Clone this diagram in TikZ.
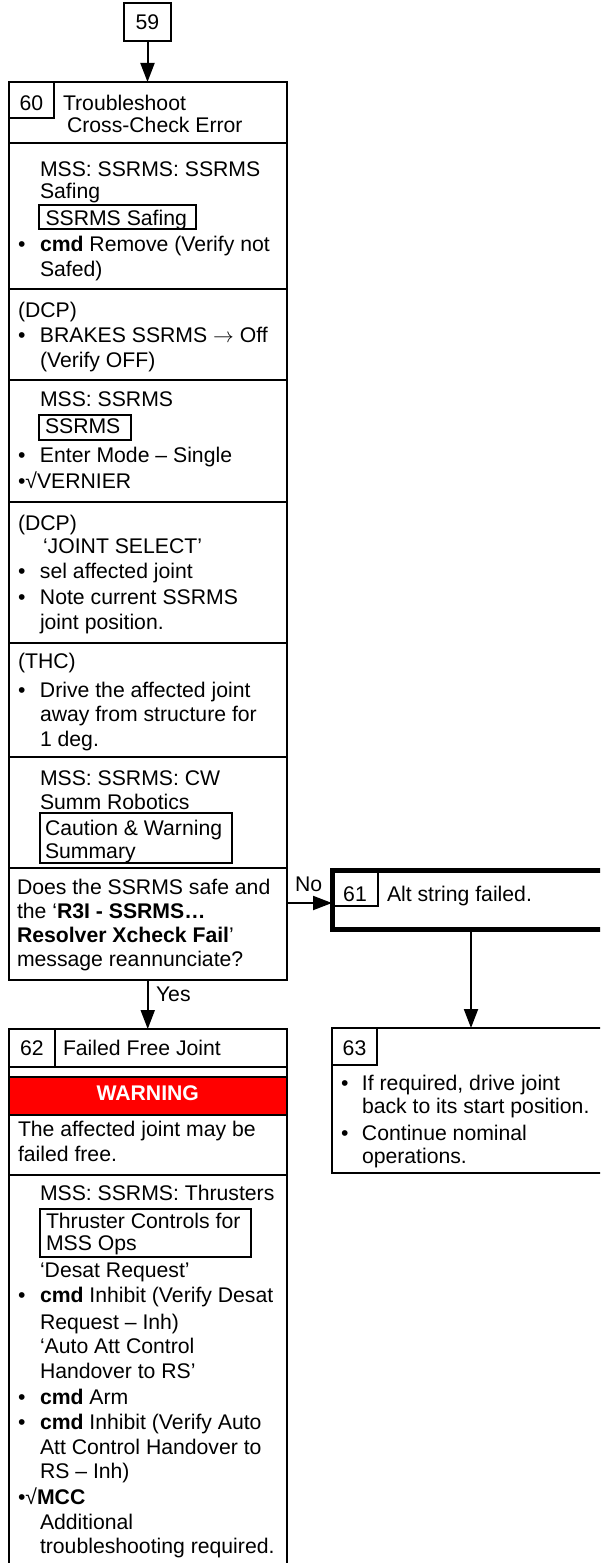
\documentclass[tikz,border=0pt]{standalone}
\usepackage{fontspec}
\setmainfont{Liberation Sans}
\usetikzlibrary{arrows.meta}
\newcommand\myfs{\fontsize{21.2pt}{25pt}\selectfont}
\newcommand\bul{\makebox[22pt][l]{\textbullet}}
\newcommand\bulr{\makebox[21pt][l]{\textbullet}}
\begin{document}
\begin{tikzpicture}[x=1pt,y=-1pt,
  bx/.style={draw, line width=2pt, inner sep=0pt, outer sep=0pt, anchor=north west},
  ibx/.style={draw, line width=1.8pt, inner sep=0pt, outer sep=0pt, anchor=north west},
  txt/.style={anchor=base west, inner sep=0pt, outer sep=0pt, font=\myfs},
  ctxt/.style={anchor=base, inner sep=0pt, outer sep=0pt, font=\myfs},
  arr/.style={line width=2pt, -{Triangle[length=19pt,width=14pt]}},
  sep/.style={line width=2pt}]
\useasboundingbox (0,0) rectangle (600,1563);
\clip (0,0) rectangle (600,1563);
% ---------- box 59
\node[bx, minimum width=47pt, minimum height=38pt] (b59) at (124,3) {};
\node[ctxt] (t59) at (147.5,29.3) {59};
% ---------- box 60
\node[bx, minimum width=277.5pt, minimum height=898pt] (b60) at (9,82) {};
\node[bx, minimum width=45pt, minimum height=36pt] (n60) at (9,82) {};
\node[ctxt] (t60) at (31.5,110) {60};
\node[txt] (h60a) at (63,110) {Troubleshoot};
\node[txt] (h60b) at (67,132.7) {Cross-Check Error};
\foreach \yy in {143,289,380,502,643,757,868} \draw[sep] (9,\yy) -- (286.5,\yy);
% section 1
\node[txt] (a1) at (40,176.7) {MSS: SSRMS: SSRMS};
\node[txt] (a2) at (40,198.3) {Safing};
\node[ibx, minimum width=157pt, minimum height=24pt] (k1) at (39,205) {};
\node[txt] (a3) at (45.5,225) {SSRMS Safing};
\node[txt] (a4) at (18,251.7) {\bul\textbf{cmd} Remove (Verify not};
\node[txt] (a5) at (40,276.7) {Safed)};
% section 2
\node[txt] (b1) at (18,317.3) {(DCP)};
\node[txt] (b2) at (18,342.7) {\bul BRAKES SSRMS $\rightarrow$ Off};
\node[txt] (b3) at (40,367.3) {(Verify OFF)};
% section 3
\node[txt] (c1) at (40,406) {MSS: SSRMS};
\node[ibx, minimum width=92pt, minimum height=25pt] (k2) at (39,415) {};
\node[txt] (c2) at (45,433.3) {SSRMS};
\node[txt] (c3) at (18,462.7) {\bul Enter Mode – Single};
\node[txt] (c4) at (18,488.3) {•√VERNIER};
% section 4
\node[txt] (d1) at (18,530) {(DCP)};
\node[txt] (d2) at (43,553.3) {‘JOINT SELECT’};
\node[txt] (d3) at (18,578.3) {\bul sel affected joint};
\node[txt] (d4) at (18,604) {\bul Note current SSRMS};
\node[txt] (d5) at (40,629.3) {joint position.};
% section 5
\node[txt] (e1) at (18,668.3) {(THC)};
\node[txt] (e2) at (18,697.3) {\bul Drive the affected joint};
\node[txt] (e3) at (40,721.7) {away from structure for};
\node[txt] (e4) at (40,746.7) {1 deg.};
% section 6
\node[txt] (f1) at (40,785) {MSS: SSRMS: CW};
\node[txt] (f2) at (40,809.3) {Summ Robotics};
\node[ibx, minimum width=192pt, minimum height=50pt] (k3) at (40,813.3) {};
\node[txt] (f3) at (45,835) {Caution \& Warning};
\node[txt] (f4) at (45,858.3) {Summary};
% section 7 (decision)
\node[inner sep=0pt, outer sep=0pt, anchor=north west, minimum width=277.5pt, minimum height=112pt] (dec) at (9,868) {};
\node[txt] (g1) at (17,894) {Does the SSRMS safe and};
\node[txt] (g2) at (17,918) {the ‘\textbf{R3I - SSRMS…}};
\node[txt] (g3) at (17,942) {\textbf{Resolver Xcheck Fail}’};
\node[txt] (g4) at (17,966) {message reannunciate?};
% ---------- box 61
\node[bx, line width=5pt, minimum width=278pt, minimum height=59pt] (b61) at (332,870) {};
\node[bx, minimum width=46pt, minimum height=36pt] (n61) at (332,870) {};
\node[ctxt] (t61) at (355,901.7) {61};
\node[txt] (h61) at (387,901.7) {Alt string failed.};
% ---------- box 63
\node[bx, minimum width=278pt, minimum height=145pt] (b63) at (332,1028) {};
\node[bx, minimum width=45pt, minimum height=37pt] (n63) at (332,1028) {};
\node[ctxt] (t63) at (354.5,1055) {63};
\node[txt] (m1) at (341,1090) {\bulr If required, drive joint};
\node[txt] (m2) at (362,1113.3) {back to its start position.};
\node[txt] (m3) at (341,1140.7) {\bulr Continue nominal};
\node[txt] (m4) at (362,1163.3) {operations.};
% ---------- box 62
\node[bx, minimum width=277.5pt, minimum height=546pt] (b62) at (9,1029) {};
\node[bx, minimum width=46pt, minimum height=37.5pt] (n62) at (9,1029) {};
\node[ctxt] (t62) at (32,1055) {62};
\node[txt] (h62) at (63,1055) {Failed Free Joint};
\draw[sep] (9,1066.5) -- (286.5,1066.5);
\node[bx, fill=red, minimum width=277.5pt, minimum height=38pt] (warn) at (9,1077) {};
\node[ctxt, text=white, font=\myfs\bfseries] (wt) at (147.75,1100) {WARNING};
\node[txt] (p1) at (18,1136.7) {The affected joint may be};
\node[txt] (p2) at (18,1161) {failed free.};
\draw[sep] (9,1175) -- (286.5,1175);
\node[txt] (q1) at (40,1200.7) {MSS: SSRMS: Thrusters};
\node[ibx, minimum width=211pt, minimum height=47.7pt] (k4) at (40,1209.3) {};
\node[txt] (q2) at (46,1228.3) {Thruster Controls for};
\node[txt] (q3) at (46,1250) {MSS Ops};
\node[txt] (q4) at (40,1277.3) {‘Desat Request’};
\node[txt] (q5) at (18,1302.7) {\bul\textbf{cmd} Inhibit (Verify Desat};
\node[txt] (q6) at (40,1329.3) {Request – Inh)};
\node[txt] (q7) at (40,1353.3) {‘Auto Att Control};
\node[txt] (q8) at (40,1378.3) {Handover to RS’};
\node[txt] (q9) at (18,1404) {\bul\textbf{cmd} Arm};
\node[txt] (q10) at (18,1429.3) {\bul\textbf{cmd} Inhibit (Verify Auto};
\node[txt] (q11) at (40,1454) {Att Control Handover to};
\node[txt] (q12) at (40,1478.3) {RS – Inh)};
\node[txt] (q13) at (18,1504) {•√\textbf{MCC}};
\node[txt] (q14) at (40,1529.3) {Additional};
\node[txt] (q15) at (40,1553.3) {troubleshooting required.};
% ---------- connectors
\draw[arr] (b59.south) -- (b59.south |- b60.north);
\coordinate (nostart) at ([yshift=21pt]dec.east);
\draw[arr] (nostart) -- (nostart -| b61.west);
\node[txt] (lno) at (295,891.7) {No};
\draw[arr] (dec.south) -- (dec.south |- b62.north);
\node[txt] (lyes) at (156,1001) {Yes};
\draw[arr] (b61.south) -- (b61.south |- b63.north);
\end{tikzpicture}
\end{document}
